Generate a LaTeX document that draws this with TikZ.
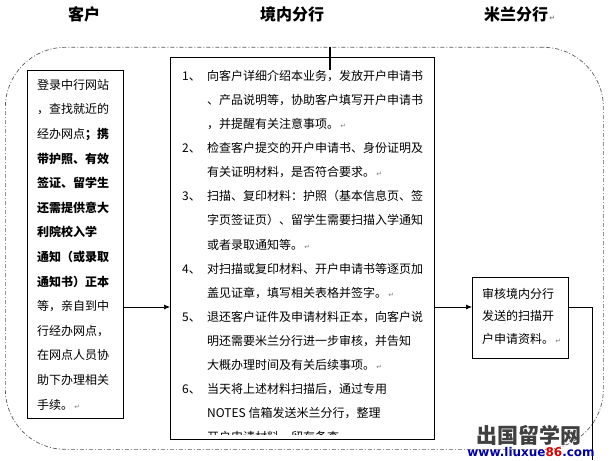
\documentclass[tikz,border=0pt]{standalone}
\usepackage{fontspec}
\setmainfont{Noto Sans CJK SC}
\newfontfamily\retfont{DejaVu Sans}
\usepackage{xcolor}
\usetikzlibrary{arrows.meta}
\newcommand{\pmark}{{\retfont\color{gray}\fontsize{7}{7}\selectfont\,↵}}
\newcommand{\itemno}[1]{\makebox[25pt][l]{#1、}}
\newcommand{\hang}{\hspace*{25pt}}

\begin{document}
\begin{tikzpicture}[x=1pt,y=1pt]
\tikzstyle{every node}+=[inner sep=0pt]
\tikzstyle{box}=[draw=black, line width=0.8pt, anchor=north west]
\tikzstyle{txt}=[align=left, anchor=north west, font=\fontsize{12}{24.6}\selectfont]
\tikzstyle{head}=[font=\fontsize{16}{16}\selectfont\bfseries]
\tikzstyle{frame}=[draw=gray!70!black, line width=0.7pt, rounded corners=60pt, dash pattern=on 4pt off 2pt on 1pt off 2pt]
\tikzstyle{arr}=[line width=0.7pt, -{Latex[length=6pt,width=5pt]}]
\useasboundingbox (0,0) rectangle (609,-460);

% column heads
\node[head] (hcust) at (84,-14) {客户};
\node[head] (hbank) at (292,-14) {境内分行};
\node[head, anchor=west] (hmilan) at (484,-14) {米兰分行\pmark};

% outer frame
\node[frame, minimum width=598, minimum height=402, anchor=north west] (frame) at (5,-47) {};

% boxes
\node[box, minimum width=96, minimum height=348] (cust) at (27,-70) {};
\node[box, minimum width=264, minimum height=382] (bank) at (170,-57) {};
\node[box, minimum width=96, minimum height=81] (milan) at (472,-277) {};

\node[txt] (custtxt) at (37,-79) {登录中行网站\\，查找就近的\\经办网点\textbf{；携}\\
  \textbf{带护照、有效}\\\textbf{签证、留学生}\\\textbf{还需提供意大}\\\textbf{利院校入学}\\
  \textbf{通知（或录取}\\\textbf{通知书）正本}\\等，亲自到中\\行经办网点，\\在网点人员协\\
  助下办理相关\\手续。\pmark};

% last line of the bank box is cut off
\coordinate (cut) at (0,-434);
\begin{scope}
\clip (bank.north west) rectangle (bank.east |- cut);
\node[txt, font=\fontsize{12}{24.1}\selectfont] (banktxt) at (182,-70) {%
  \itemno{1}向客户详细介绍本业务，发放开户申请书\\
  \hang、产品说明等，协助客户填写开户申请书\\
  \hang，并提醒有关注意事项。\pmark\\
  \itemno{2}检查客户提交的开户申请书、身份证明及\\
  \hang 有关证明材料，是否符合要求。\pmark\\
  \itemno{3}扫描、复印材料：护照（基本信息页、签\\
  \hang 字页签证页）、留学生需要扫描入学通知\\
  \hang 或者录取通知等。\pmark\\
  \itemno{4}对扫描或复印材料、开户申请书等逐页加\\
  \hang 盖见证章，填写相关表格并签字。\pmark\\
  \itemno{5}退还客户证件及申请材料正本，向客户说\\
  \hang 明还需要米兰分行进一步审核，并告知\\
  \hang 大概办理时间及有关后续事项。\pmark\\
  \itemno{6}当天将上述材料扫描后，通过专用\\
  \hang NOTES 信箱发送米兰分行，整理\\
  \hang 开户申请材料，留存备查。\pmark};
\end{scope}

\node[txt, font=\fontsize{12}{22.5}\selectfont] (milantxt) at (482,-288) {审核境内分行\\发送的扫描开\\户申请资料。\pmark};

% connectors
\coordinate (flow) at (0,-307);
\draw[arr] (cust.east |- flow) -- (bank.west |- flow);
\draw[arr] (bank.east |- flow) -- (milan.west |- flow);
\coordinate (exit) at (592,-460);
\draw[line width=0.7pt] (milan.east |- flow) -| (exit);
\coordinate (tick) at (330,-70);
\draw[line width=1.3pt] (frame.north -| tick) -- (tick);

% watermark
\node[font=\fontsize{21}{21}\selectfont\bfseries, text=black!75] (wmark) at (529,-435) {出国留学网};
\node[font=\retfont\fontsize{12}{12}\selectfont\bfseries, text=blue!65!black] (wurl) at (531,-452) {www.liuxue\textcolor{red!85!black}{86}.com};
\end{tikzpicture}
\end{document}
